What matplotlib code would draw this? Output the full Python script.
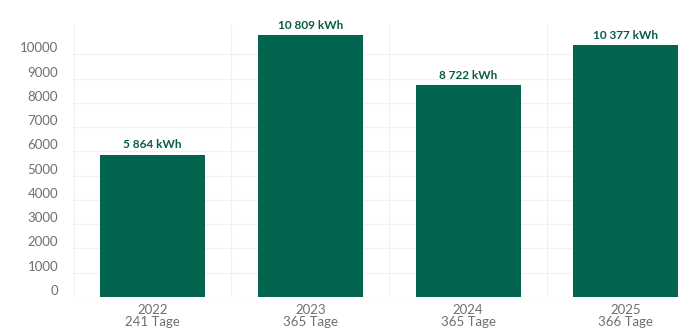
import matplotlib.pyplot as plt
import numpy as np

years = ["2022", "2023", "2024", "2025"]
days = ["241 Tage", "365 Tage", "365 Tage", "366 Tage"]
values = [5864, 10809, 8722, 10377]
value_labels = ["5 864 kWh", "10 809 kWh", "8 722 kWh", "10 377 kWh"]
yticks = [0, 1000, 2000, 3000, 4000, 5000, 6000, 7000, 8000, 9000, 10000]

green = "#03654f"
plt.rcParams['font.family'] = ['Lato', 'DejaVu Sans']

fig = plt.figure(figsize=(6.78, 3.29), dpi=100)
ax = fig.add_axes([72/678, 32/329, 606/678, 272/329])

x = np.arange(len(years))
ax.bar(x, values, width=0.665, color=green, zorder=2)
for xi, v, lab in zip(x, values, value_labels):
    ax.text(xi, v + 180, lab, ha='center', va='bottom', fontsize=8.5,
            fontweight='bold', color="#0b5a44")

ax.set_xlim(-0.51, 3.33)
ax.set_ylim(0, 11216)
ax.set_yticks(yticks)
ax.set_yticklabels([str(t) for t in yticks], fontsize=9.5, color="#6f6f6f",
                   va='bottom')
ax.set_xticks(x)
ax.set_xticklabels([f"{y}\n{d}" for y, d in zip(years, days)], fontsize=9.5,
                   color="#6f6f6f", linespacing=1.05)
ax.tick_params(axis='x', length=0, pad=5)
ax.tick_params(axis='y', length=0, pad=10)

for t in yticks:
    ax.axhline(t, color="#f1f1f1", lw=0.8, zorder=0)
for b in [-0.5, 0.5, 1.5, 2.5]:
    ax.axvline(b, color="#f1f1f1", lw=0.8, zorder=0)

for s in ax.spines.values():
    s.set_visible(False)

fig.savefig("out.png", dpi=100)
